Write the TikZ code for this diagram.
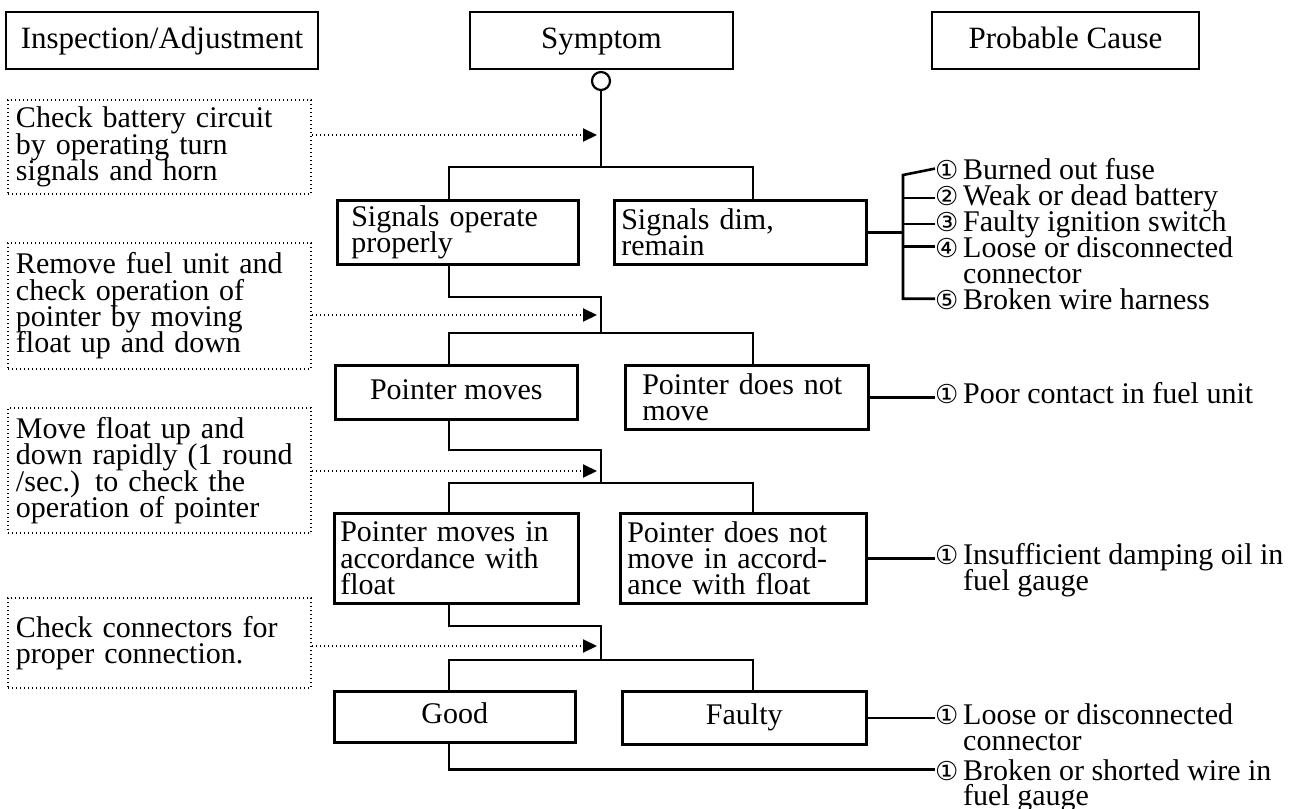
\documentclass[tikz,border=0pt]{standalone}
\usepackage{fontspec}
\setmainfont{Liberation Serif}
\newfontfamily\circfont{DejaVu Sans}
\usetikzlibrary{arrows.meta}
\newcommand\cnum[1]{\makebox[28pt][l]{\circfont\fontsize{26}{26}\selectfont #1}}
\lineskiplimit=-50pt
\lineskip=0pt
\begin{document}
\begin{tikzpicture}[x=1pt,y=-1pt,
  wire/.style={line width=2.6pt},
  hdr/.style={draw, line width=2.6pt, inner sep=0pt, minimum height=57pt, text height=22pt, text depth=7pt, font={\fontsize{31}{31}\selectfont}},
  symbox/.style={draw, line width=2.6pt, anchor=north west, inner ysep=0pt, align=left, font={\fontsize{30}{26.3}\selectfont\lineskiplimit=-50pt\relax}},
  symc/.style={draw, line width=2.6pt, anchor=north west, inner sep=0pt, align=center, text height=21pt, text depth=7pt, font={\fontsize{30}{26}\selectfont}},
  insp/.style={draw, line width=2pt, dash pattern=on 1.2pt off 2.8pt, anchor=north west, inner ysep=0pt, inner xsep=8pt, text width=287pt, align=left, font={\fontsize{30}{26.3}\selectfont\lineskiplimit=-50pt\relax}},
  dotarrow/.style={line width=2pt, dash pattern=on 1.2pt off 2.8pt, -{Triangle[length=14pt,width=13pt]}},
  cause/.style={anchor=base west, inner sep=0pt, font={\fontsize{30}{26}\selectfont}}
]
\useasboundingbox (0,0) rectangle (1302,809);

% headers
\node[hdr, minimum width=312pt] (H1) at (162,40.5) {Inspection/Adjustment};
\node[hdr, minimum width=263pt] (H2) at (601.5,40.5) {Symptom};
\node[hdr, minimum width=267pt] (H3) at (1065.5,40.5) {Probable Cause};

\node[circle, draw, line width=2.2pt, minimum size=18pt, inner sep=0pt] (circ) at (601,81) {};

% inspection boxes
\node[insp, minimum height=94pt] (I1) at (7,99) {Check battery circuit\\by operating turn\\signals and horn};
\node[insp, minimum height=126pt] (I2) at (7,242) {Remove fuel unit and\\check operation of\\pointer by moving\\float up and down};
\node[insp, minimum height=125pt] (I3) at (7,407) {Move float up and\\down rapidly (1 round\\/sec.) to check the\\operation of pointer};
\node[insp, minimum height=90pt] (I4) at (7,597) {Check connectors for\\proper connection.};

% symptom boxes
\node[symbox, minimum height=64pt, inner xsep=14pt, text width=213pt] (A1) at (336,199) {Signals operate\\properly};
\node[symbox, minimum height=64pt, inner xsep=7pt, text width=238pt] (A2) at (613,199) {Signals dim,\\remain};
\node[symc, minimum height=54pt, minimum width=242pt] (B1) at (334,364) {Pointer moves};
\node[symbox, minimum height=64pt, inner xsep=17pt, text width=209pt] (B2) at (624,364) {Pointer does not\\move};
\node[symbox, minimum height=90pt, inner xsep=6pt, text width=232pt] (C1) at (333,512) {Pointer moves in\\accordance with\\float};
\node[symbox, minimum height=90pt, inner xsep=7pt, text width=232pt] (C2) at (619,512) {Pointer does not\\move in accord-\\ance with float};
\node[symc, minimum height=51pt, minimum width=241pt] (D1) at (333,690) {Good};
\node[symc, minimum height=53pt, minimum width=244pt] (D2) at (621,690) {Faulty};

% causes
\node[cause] (c11) at (935,179) {\cnum{①}Burned out fuse};
\node[cause] (c12) at (935,205) {\cnum{②}Weak or dead battery};
\node[cause] (c13) at (935,231) {\cnum{③}Faulty ignition switch};
\node[cause] (c14) at (935,257) {\cnum{④}Loose or disconnected};
\node[cause] (c14b) at (963,283) {connector};
\node[cause] (c15) at (935,309) {\cnum{⑤}Broken wire harness};
\node[cause] (c21) at (935,403) {\cnum{①}Poor contact in fuel unit};
\node[cause] (c31) at (935,564) {\cnum{①}Insufficient damping oil in};
\node[cause] (c32) at (963,590) {fuel gauge};
\node[cause] (c41) at (935,724) {\cnum{①}Loose or disconnected};
\node[cause] (c42) at (963,750) {connector};
\node[cause] (c51) at (935,780) {\cnum{①}Broken or shorted wire in};
\node[cause] (c52) at (963,805) {fuel gauge};

% coordinates
\coordinate (cL) at (449,0);
\coordinate (cR) at (753,0);
\coordinate (j1) at (601,167);
\coordinate (t1) at (601,297);
\coordinate (j2) at (601,333);
\coordinate (t2) at (601,450);
\coordinate (j3) at (601,483);
\coordinate (t3) at (601,626);
\coordinate (j4) at (601,660);
\coordinate (m1) at (597,135);
\coordinate (m2) at (597,315);
\coordinate (m3) at (597,471);
\coordinate (m4) at (597,646);
\coordinate (bx1) at (903,175);

% flow wires
\draw[wire] (circ.south) -- (j1);
\draw[wire] (A1.north -| cL) |- (j1) -| (A2.north -| cR);
\draw[wire] (A1.south -| cL) |- (t1) -- (j2);
\draw[wire] (B1.north -| cL) |- (j2) -| (B2.north -| cR);
\draw[wire] (B1.south -| cL) |- (t2) -- (j3);
\draw[wire] (C1.north -| cL) |- (j3) -| (C2.north -| cR);
\draw[wire] (C1.south -| cL) |- (t3) -- (j4);
\draw[wire] (D1.north -| cL) |- (j4) -| (D2.north -| cR);
\draw[wire] (D1.south -| cL) |- (c51.west);

% cause wires
\draw[wire] (A2.east) -- (A2.east -| bx1);
\draw[wire] (c11.west) -- (bx1) -- (bx1 |- c15.west) -- (c15.west);
\draw[wire] (c12.west -| bx1) -- (c12.west);
\draw[wire] (c13.west -| bx1) -- (c13.west);
\draw[wire] (c14.west -| bx1) -- (c14.west);
\draw[wire] (B2.east) -- (B2.east -| c21.west);
\draw[wire] (C2.east) -- (C2.east -| c31.west);
\draw[wire] (D2.east) -- (D2.east -| c41.west);

% inspection arrows
\draw[dotarrow] (I1.east |- m1) -- (m1);
\draw[dotarrow] (I2.east |- m2) -- (m2);
\draw[dotarrow] (I3.east |- m3) -- (m3);
\draw[dotarrow] (I4.east |- m4) -- (m4);
\end{tikzpicture}
\end{document}
